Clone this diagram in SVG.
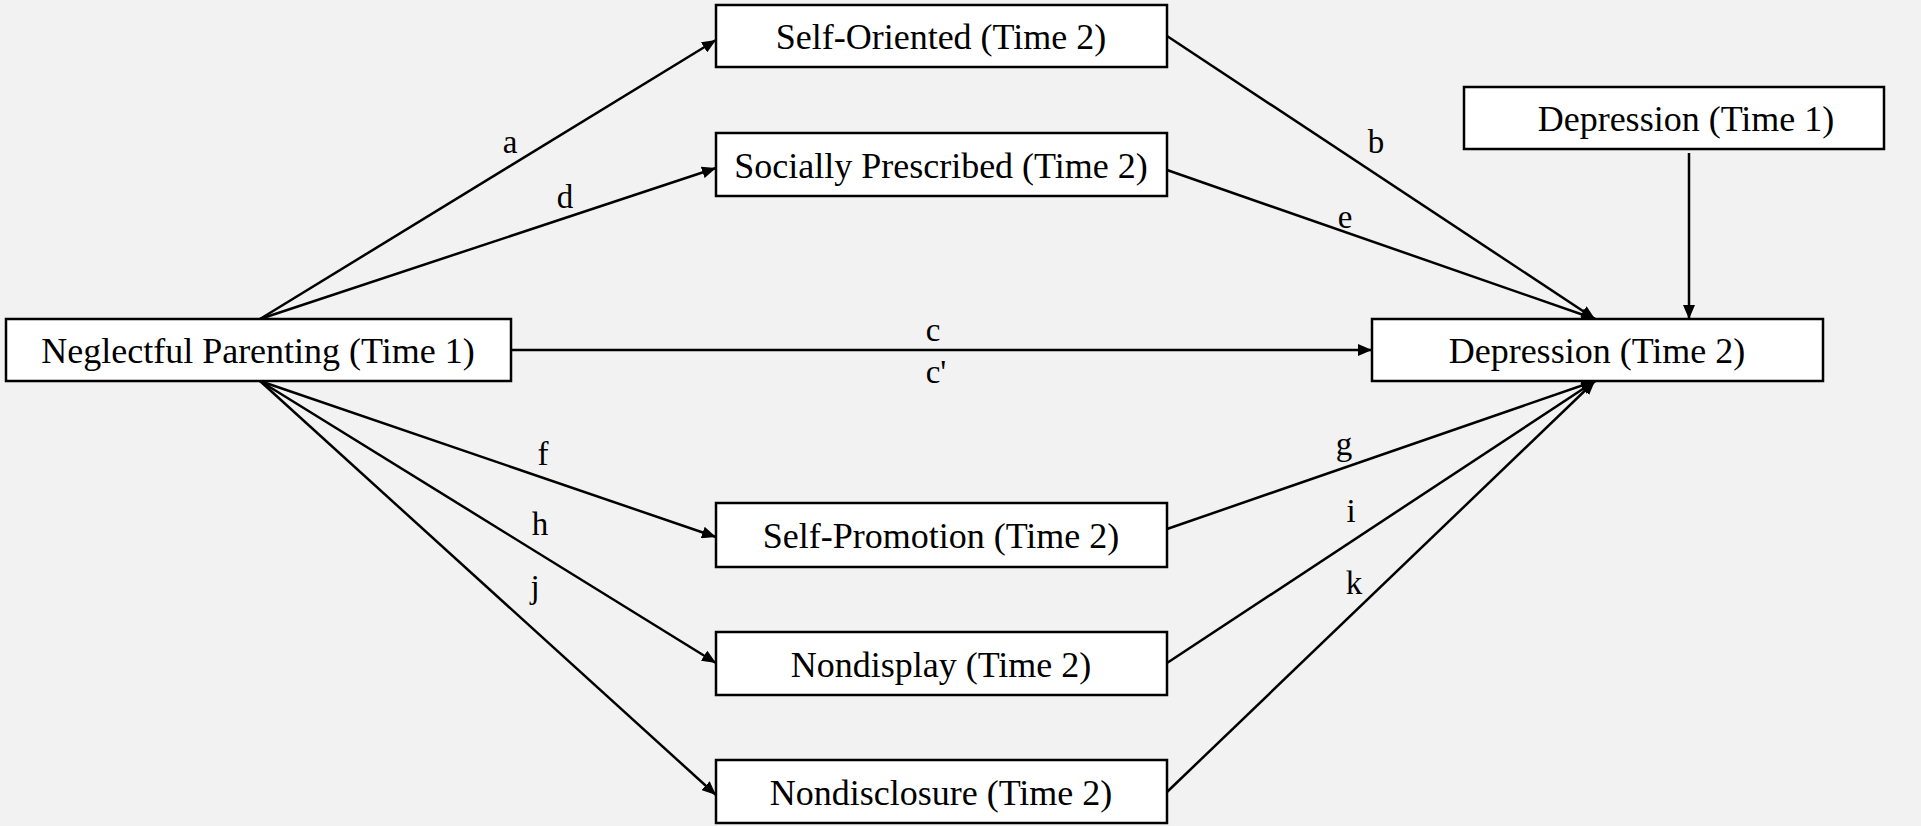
<svg xmlns="http://www.w3.org/2000/svg" width="1921" height="826" viewBox="0 0 1921 826">
<style>
.box{fill:#ffffff;stroke:#000;stroke-width:2.5}
.t{font-family:"Liberation Serif","Times New Roman",serif;font-size:36px;fill:#000;text-anchor:middle}
.l{font-family:"Liberation Serif","Times New Roman",serif;font-size:33px;fill:#000;text-anchor:middle}
.e{stroke:#000;stroke-width:2.5;fill:none;marker-end:url(#ah)}
</style>
<defs>
<marker id="ah" markerUnits="userSpaceOnUse" markerWidth="16" markerHeight="12" refX="14" refY="6" orient="auto">
<path d="M0,0 L14,6 L0,12 Z" fill="#000"/>
</marker>
</defs>
<rect width="1921" height="826" fill="#f2f2f2"/>
<g id="connectors">
<line class="e" x1="260" y1="319" x2="716" y2="40"/>
<line class="e" x1="260" y1="319" x2="716" y2="168"/>
<line class="e" x1="260" y1="381" x2="716" y2="537"/>
<line class="e" x1="260" y1="381" x2="716" y2="663"/>
<line class="e" x1="260" y1="381" x2="716" y2="795"/>
<line class="e" x1="1167" y1="36" x2="1595" y2="319"/>
<line class="e" x1="1167" y1="170" x2="1595" y2="319"/>
<line class="e" x1="1167" y1="529" x2="1595" y2="381"/>
<line class="e" x1="1167" y1="663" x2="1595" y2="381"/>
<line class="e" x1="1167" y1="792" x2="1595" y2="381"/>
<line class="e" x1="511" y1="350" x2="1372" y2="350"/>
<line class="e" x1="1689" y1="153" x2="1689" y2="319"/>
<text class="l" x="510" y="153">a</text>
<text class="l" x="565" y="208">d</text>
<text class="l" x="1376" y="153">b</text>
<text class="l" x="1345" y="228">e</text>
<text class="l" x="933" y="341">c</text>
<text class="l" x="936" y="383">c'</text>
<text class="l" x="543" y="465">f</text>
<text class="l" x="540" y="535">h</text>
<text class="l" x="535" y="598">j</text>
<text class="l" x="1344" y="455">g</text>
<text class="l" x="1351" y="522">i</text>
<text class="l" x="1354" y="594">k</text>
</g>
<g id="neglectful">
<rect class="box" x="6" y="319" width="505" height="62"/>
<text class="t" x="258" y="363">Neglectful Parenting (Time 1)</text>
</g>
<g id="selfOriented">
<rect class="box" x="716" y="5" width="451" height="62"/>
<text class="t" x="941" y="49">Self-Oriented (Time 2)</text>
</g>
<g id="sociallyPrescribed">
<rect class="box" x="716" y="133" width="451" height="63"/>
<text class="t" x="941" y="178">Socially Prescribed (Time 2)</text>
</g>
<g id="selfPromotion">
<rect class="box" x="716" y="503" width="451" height="64"/>
<text class="t" x="941" y="548">Self-Promotion (Time 2)</text>
</g>
<g id="nondisplay">
<rect class="box" x="716" y="632" width="451" height="63"/>
<text class="t" x="941" y="677">Nondisplay (Time 2)</text>
</g>
<g id="nondisclosure">
<rect class="box" x="716" y="760" width="451" height="63"/>
<text class="t" x="941" y="805">Nondisclosure (Time 2)</text>
</g>
<g id="depressionT1">
<rect class="box" x="1464" y="87" width="420" height="62"/>
<text class="t" x="1686" y="131">Depression (Time 1)</text>
</g>
<g id="depressionT2">
<rect class="box" x="1372" y="319" width="451" height="62"/>
<text class="t" x="1597" y="363">Depression (Time 2)</text>
</g>
</svg>
